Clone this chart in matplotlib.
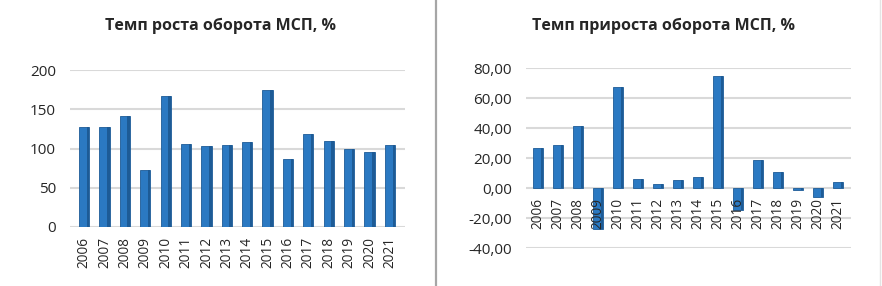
import numpy as np
import matplotlib
matplotlib.use("Agg")
import matplotlib.pyplot as plt
from matplotlib.lines import Line2D
from matplotlib.ticker import FuncFormatter

plt.rcParams['font.family'] = ['Open Sans', 'DejaVu Sans']

# data
years = ["2006", "2007", "2008", "2009", "2010", "2011", "2012", "2013",
         "2014", "2015", "2016", "2017", "2018", "2019", "2020", "2021"]
growth_rate = [127, 128, 142, 73, 167, 106, 103, 105,
               108, 174, 86, 118, 110, 99, 95, 104]
increment_rate = [26.7, 28.4, 41.6, -27.3, 67.3, 6.0, 2.5, 5.3,
                  7.1, 74.4, -14.4, 18.4, 10.4, -1.5, -6.0, 3.8]

title_left = "Темп роста оборота МСП, %"
title_right = "Темп прироста оборота МСП, %"

bar_color = "#2b79c2"
side_color = "#1d5b96"
grid_color = "#d9d9d9"
text_color = "#262626"


def draw_bars(ax, values):
    x = np.arange(len(values))
    ax.bar(x, values, width=0.5, color=bar_color, edgecolor=side_color,
           linewidth=0.6, zorder=3)
    # darker right face to fake the excel 3d look
    ax.bar(x + 0.19, values, width=0.12, color=side_color, linewidth=0, zorder=4)
    ax.set_xticks(x)
    ax.set_xticklabels(years, rotation=90, fontsize=9.8, color=text_color)
    ax.tick_params(axis="x", length=0, pad=7)
    ax.tick_params(axis="y", length=0, pad=10, labelsize=11, labelcolor=text_color)
    ax.grid(axis="y", color=grid_color, linewidth=1.5)
    ax.yaxis.set_zorder(0.5)
    ax.xaxis.set_zorder(6)   # year labels drawn over the negative bars
    for s in ["top", "right", "left", "bottom"]:
        ax.spines[s].set_visible(False)


fig = plt.figure(figsize=(8.82, 2.86), dpi=100)

# left panel
ax1 = fig.add_axes([70 / 882, 59 / 286, 335 / 882, 157 / 286])
draw_bars(ax1, growth_rate)
ax1.set_ylim(0, 200)
ax1.set_yticks([0, 50, 100, 150, 200])
ax1.set_xlim(-0.69, 15.74)
fig.text(221 / 882, 1 - 26 / 286, title_left, ha="center", va="center",
         fontsize=11.5, fontweight="bold", color=text_color)

# right panel, year labels sit on the zero line
ax2 = fig.add_axes([526 / 882, 38 / 286, 325 / 882, 180 / 286])
ax2.spines["bottom"].set_position(("data", 0))
draw_bars(ax2, increment_rate)
ax2.set_ylim(-40, 80)
ax2.set_yticks([-40, -20, 0, 20, 40, 60, 80])
ax2.yaxis.set_major_formatter(FuncFormatter(lambda v, p: f"{v:.2f}".replace(".", ",")))
ax2.set_xlim(-0.6, 15.65)
fig.text(663 / 882, 1 - 26 / 286, title_right, ha="center", va="center",
         fontsize=11.5, fontweight="bold", color=text_color)

# panel frames
fig.add_artist(Line2D([436 / 882, 436 / 882], [0, 1], color="#a6a6a6", linewidth=1.6))
fig.add_artist(Line2D([880 / 882, 880 / 882], [0, 1], color="#e4e4e4", linewidth=1.0))

fig.savefig("out.png", dpi=100, facecolor="white")
